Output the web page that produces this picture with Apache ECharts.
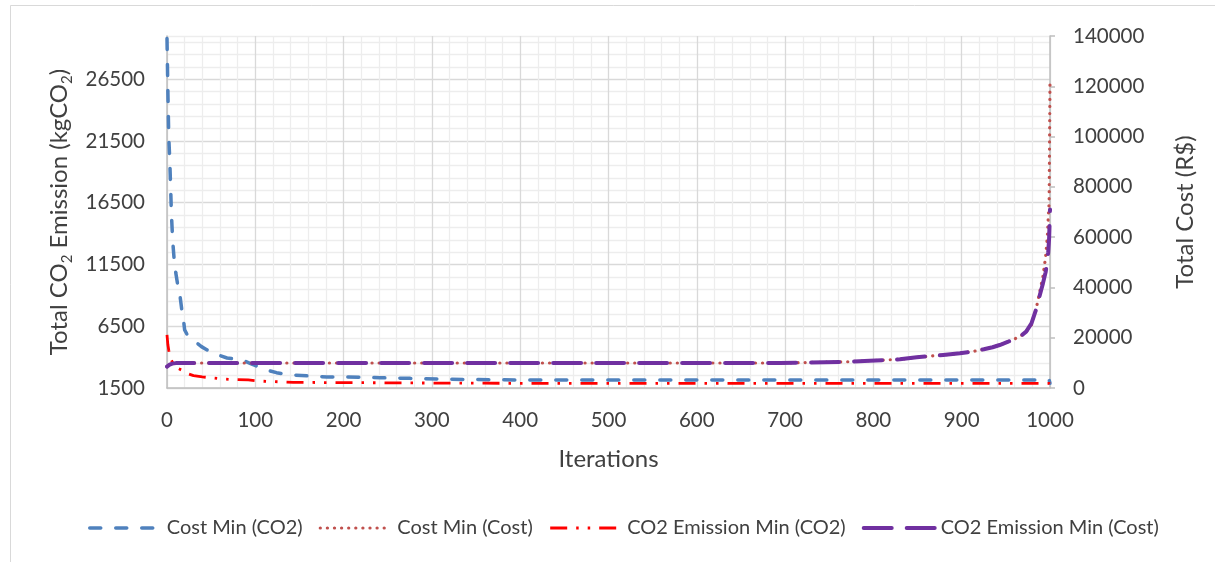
<!DOCTYPE html>
<html><head><meta charset="utf-8">
<script src="https://cdn.jsdelivr.net/npm/echarts@6/dist/echarts.min.js"></script>
<style>html,body{margin:0;padding:0;background:#fff}#c{width:1215px;height:562px}</style>
</head><body><div id="c"></div>
<script>
// ---- data ----
const seriesNames = ['Cost Min (CO2)', 'Cost Min (Cost)', 'CO2 Emission Min (CO2)', 'CO2 Emission Min (Cost)'];

// left axis (kgCO2)
const costMinCO2 = [[0,29800],[1,25500],[2,21800],[3,20200],[4,18000],[5,15600],[6,14100],[7,12900],[8,12000],[10,10800],[12,9900],[15,8800],[17,7700],[19,6800],[20,6200],[23,5800],[27,5500],[32,5250],[39,4850],[45,4600],[52,4350],[58,4170],[68,3930],[78,3830],[86,3740],[94,3500],[104,3200],[113,2960],[124,2740],[133,2630],[143,2550],[162,2470],[181,2400],[220,2370],[241,2330],[275,2280],[309,2230],[350,2180],[400,2150],[500,2150],[600,2150],[700,2150],[800,2150],[900,2150],[999,2150],[1000,1880]];
const co2MinCO2 = [[0,5800],[1,5000],[2,4550],[3,4200],[5,3750],[8,3350],[12,3100],[18,2900],[24,2650],[30,2500],[40,2400],[49,2330],[60,2250],[71,2200],[92,2150],[105,2060],[120,2020],[143,1960],[180,1940],[218,1930],[300,1900],[400,1880],[500,1880],[600,1880],[700,1880],[800,1880],[900,1880],[999,1880],[1000,1820]];

// right axis (R$)
const costMinCost = [[0,8500],[3,9300],[6,9700],[10,9900],[50,9950],[100,9950],[300,9950],[500,9950],[694,9950],[720,10100],[773,10460],[796,10860],[830,11400],[849,12200],[879,13100],[898,13800],[912,14500],[925,15400],[935,16200],[943,17100],[952,18300],[961,19700],[968,21000],[973,22400],[979,25100],[984,31000],[988,37600],[992,44300],[995,52000],[997,60200],[998,68000],[999,73600],[1000,121800]];
const co2MinCost = [[0,8500],[3,9300],[6,9700],[10,9900],[50,9950],[100,9950],[300,9950],[500,9950],[694,9970],[720,10100],[773,10460],[796,10860],[830,11400],[849,12200],[879,13120],[898,13800],[912,14500],[925,15390],[935,16200],[943,17100],[952,18300],[961,19770],[968,21000],[973,22400],[979,25700],[984,31000],[988,36300],[992,41600],[995,46000],[996,48200],[997,51000],[998,54000],[999,59500],[1000,71000]];

// axis ranges / ticks
const xRange = [0, 1000];
const xMajorStep = 100;
const xMinorStep = 20;
const leftRange = [1500, 30000];
const leftMajorStep = 5000;
const leftMinorStep = 1000;
const rightRange = [0, 140000];
const rightStep = 20000;

const FONT = 'Lato';
const TXT = '#404040';
const MAJOR = '#d9d9d9', MINOR = '#ededed', AXIS = '#bfbfbf';
const gridColors = [MAJOR, MINOR, MINOR, MINOR, MINOR];

const styles = [
  {color: '#4f81bd', width: 3.5, type: [11, 15], cap: 'round'},
  {color: '#c0504d', width: 3.2, type: [0.1, 7], cap: 'round'},
  {color: '#ff0000', width: 2.8, type: [17, 9, 2.5, 9, 2.5, 9], cap: 'butt'},
  {color: '#7030a0', width: 4, type: [28, 15], cap: 'round'}
];
const yIdx = [0, 1, 0, 1];
const seriesData = [costMinCO2, costMinCost, co2MinCO2, co2MinCost];

const chart = echarts.init(document.getElementById('c'), null, {renderer: 'canvas'});
chart.setOption({
  animation: false,
  backgroundColor: '#fff',
  graphic: [{
    type: 'rect', silent: true, z: -10,
    shape: {x: 10.5, y: 5.5, width: 1400, height: 800},
    style: {fill: 'transparent', stroke: '#d9d9d9', lineWidth: 1}
  }],
  grid: {left: 167, right: 165, top: 36, bottom: 174, containLabel: false, outerBoundsMode: 'none'},
  legend: {
    data: seriesNames.map((n, i) => ({name: n, lineStyle: {width: styles[i].width, type: styles[i].type, cap: styles[i].cap}})),
    left: 88, top: 518, padding: 0, itemWidth: 71, itemHeight: 10, itemGap: 16,
    itemStyle: {opacity: 0},
    textStyle: {fontFamily: FONT, fontSize: 20, color: TXT, padding: [0, 0, 0, 1]}
  },
  xAxis: {
    type: 'value', min: xRange[0], max: xRange[1], interval: xMinorStep,
    axisLine: {show: true, lineStyle: {color: AXIS, width: 1.5}},
    axisTick: {show: false},
    axisLabel: {margin: 22, fontFamily: FONT, fontSize: 20.5, color: TXT,
      formatter: v => (v % xMajorStep === 0 ? String(v) : '')},
    splitLine: {show: true, lineStyle: {color: gridColors, width: 1.3}},
    name: 'Iterations', nameLocation: 'middle', nameGap: 59,
    nameTextStyle: {fontFamily: FONT, fontSize: 24, color: TXT}
  },
  yAxis: [{
    type: 'value', position: 'left', min: leftRange[0], max: leftRange[1], interval: leftMinorStep,
    axisLine: {show: true, lineStyle: {color: AXIS, width: 1.5}},
    axisTick: {show: false},
    axisLabel: {margin: 22, fontFamily: FONT, fontSize: 20.5, color: TXT,
      formatter: v => ((v - leftRange[0]) % leftMajorStep === 0 && v < leftRange[1] ? String(v) : '')},
    splitLine: {show: true, lineStyle: {color: gridColors, width: 1.3}},
    name: 'Total CO{s|2} Emission (kgCO{s|2})', nameLocation: 'middle', nameGap: 84,
    nameTextStyle: {fontFamily: FONT, fontSize: 24, color: TXT, lineHeight: 30,
      rich: {s: {fontFamily: FONT, fontSize: 15, color: TXT, verticalAlign: 'bottom', lineHeight: 30}}}
  }, {
    type: 'value', position: 'right', min: rightRange[0], max: rightRange[1], interval: rightStep,
    axisLine: {show: true, lineStyle: {color: AXIS, width: 1.5}},
    axisTick: {show: true, inside: false, length: 5, lineStyle: {color: AXIS, width: 1.5}},
    axisLabel: {margin: 23, fontFamily: FONT, fontSize: 20.5, color: TXT, formatter: v => String(v)},
    splitLine: {show: false},
    name: 'Total Cost (R$)', nameLocation: 'middle', nameGap: 123,
    nameTextStyle: {fontFamily: FONT, fontSize: 24, color: TXT}
  }],
  series: seriesNames.map((n, i) => ({
    name: n, type: 'line', yAxisIndex: yIdx[i], data: seriesData[i],
    showSymbol: false, symbol: 'none', color: styles[i].color,
    lineStyle: {color: styles[i].color, width: styles[i].width, type: styles[i].type, cap: styles[i].cap, join: 'round'}
  }))
});
</script>
</body></html>
